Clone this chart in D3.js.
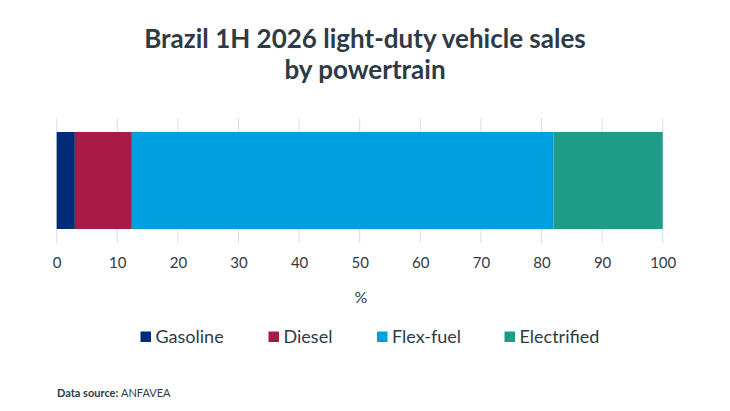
<!DOCTYPE html>
<html>
<head>
<meta charset="utf-8">
<script src="https://cdn.jsdelivr.net/npm/d3@7"></script>
<style>
  body { margin: 0; background: #fff; }
  svg { font-family: Lato, "Open Sans", sans-serif; }
</style>
</head>
<body>
<svg id="chart" width="730" height="411"></svg>
<script>
// данные
const categories = ["Gasoline", "Diesel", "Flex-fuel", "Electrified"];
const shares = [3.0, 9.4, 69.6, 18.0];
const colors = ["#002b78", "#a91b47", "#009fdf", "#1f9c88"];
const xTicks = [0, 10, 20, 30, 40, 50, 60, 70, 80, 90, 100];

const textColor = "#2e3b46";
const svg = d3.select("#chart");

// заголовок
svg.append("text")
    .attr("x", 365).attr("y", 48)
    .attr("text-anchor", "middle")
    .attr("font-size", 26).attr("font-weight", 700)
    .attr("fill", textColor)
    .text("Brazil 1H 2026 light-duty vehicle sales");
svg.append("text")
    .attr("x", 365).attr("y", 79)
    .attr("text-anchor", "middle")
    .attr("font-size", 26).attr("font-weight", 700)
    .attr("fill", textColor)
    .text("by powertrain");

// шкала X
const x = d3.scaleLinear().domain([0, 100]).range([56.7, 662.7]);

// сетка
svg.append("g")
    .selectAll("line")
    .data(xTicks)
    .enter()
    .append("line")
    .attr("x1", d => x(d)).attr("x2", d => x(d))
    .attr("y1", 118).attr("y2", 243)
    .attr("stroke", "#d9dee2")
    .attr("stroke-width", 1);

// стек
let acc = 0;
const stacked = shares.map((v, i) => {
    const seg = {name: categories[i], x0: acc, x1: acc + v, color: colors[i]};
    acc += v;
    return seg;
});

svg.append("g")
    .selectAll("rect")
    .data(stacked)
    .enter()
    .append("rect")
    .attr("x", d => x(d.x0))
    .attr("width", d => x(d.x1) - x(d.x0))
    .attr("y", 132)
    .attr("height", 97)
    .attr("fill", d => d.color);

// ось
const axis = svg.append("g")
    .attr("transform", "translate(0,243)")
    .call(d3.axisBottom(x).tickValues(xTicks).tickSize(0).tickPadding(14));
axis.select(".domain").remove();
axis.selectAll("text")
    .attr("font-family", "Lato, sans-serif")
    .attr("font-size", 15)
    .attr("fill", textColor);

svg.append("text")
    .attr("x", 361).attr("y", 303)
    .attr("text-anchor", "middle")
    .attr("font-size", 16)
    .attr("fill", textColor)
    .text("%");

// легенда
const legendX = [140.5, 268.5, 377, 504.5];
const legend = svg.append("g")
    .selectAll("g")
    .data(categories)
    .enter()
    .append("g")
    .attr("transform", (d, i) => `translate(${legendX[i]},331.5)`);
legend.append("rect")
    .attr("width", 10.5).attr("height", 10.5)
    .attr("fill", (d, i) => colors[i]);
legend.append("text")
    .attr("x", 15).attr("y", 11.5)
    .attr("font-size", 18)
    .attr("fill", textColor)
    .text(d => d);

// источник
const src = svg.append("text")
    .attr("x", 57).attr("y", 397)
    .attr("font-size", 11)
    .attr("fill", textColor);
src.append("tspan").attr("font-weight", 700).text("Data source: ");
src.append("tspan").text("ANFAVEA");
</script>
</body>
</html>
